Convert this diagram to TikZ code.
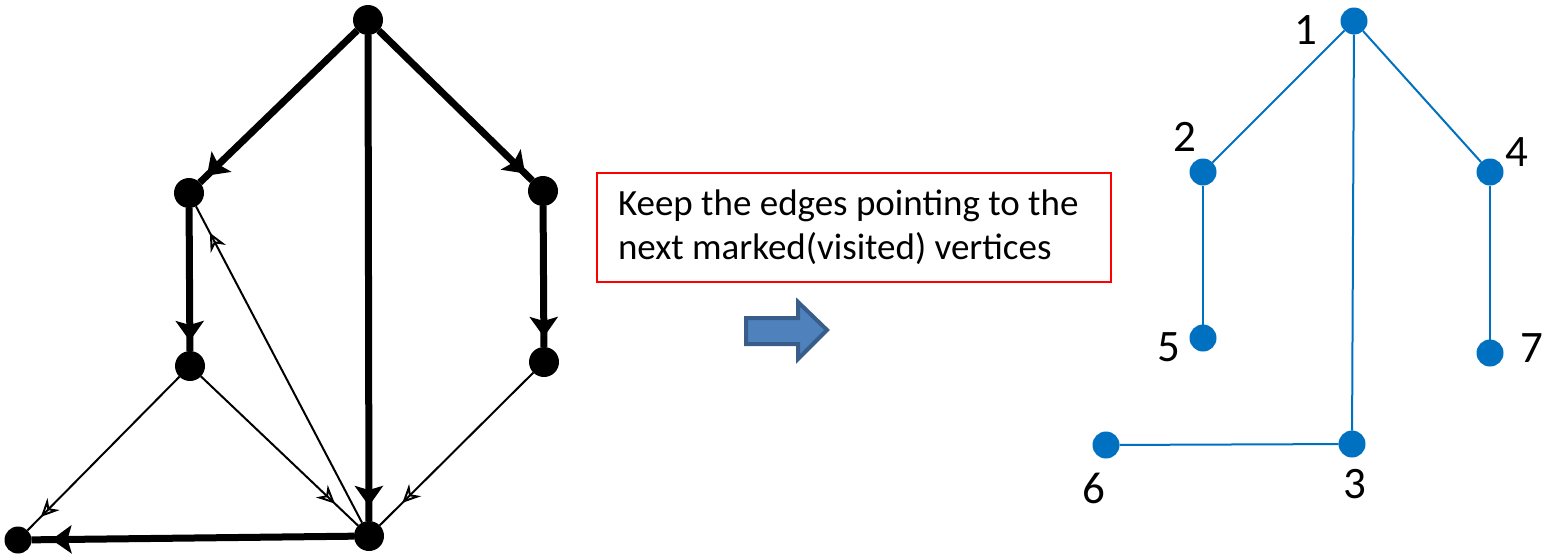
\documentclass[tikz,border=0pt]{standalone}
\usepackage{fontspec}
\setmainfont{Carlito}
\usetikzlibrary{arrows.meta, decorations.markings}

\definecolor{vtxblue}{HTML}{0070C0}
\definecolor{arrowfill}{HTML}{4F81BD}
\definecolor{arrowline}{HTML}{385D8A}

\tikzset{
  dot/.style={circle, fill=black, inner sep=0pt, outer sep=0pt, minimum size=30pt},
  vtx/.style={circle, fill=vtxblue, inner sep=0pt, outer sep=0pt, minimum size=27pt},
  num/.style={inner sep=0pt, font=\fontsize{45}{50}\selectfont},
  thickarc/.style={line width=7pt, postaction={decorate},
    decoration={markings, mark=at position #1 with {\arrow{Stealth[length=20pt,width=28pt,inset=4pt]}}}},
  thickarc/.default=-10pt,
  thinarc/.style={line width=2pt, postaction={decorate},
    decoration={markings, mark=at position #1 with {\arrow{Stealth[open,length=18pt,width=17pt,inset=6pt]}}}},
  thinarc/.default=-32pt,
  treeedge/.style={line width=2pt, draw=vtxblue},
  notebox/.style={draw=red, line width=2pt, inner sep=0pt, minimum width=514pt,
    minimum height=109pt, text width=472pt, align=flush left, font=\fontsize{37}{44}\selectfont}
}

\begin{document}
\begin{tikzpicture}[x=1pt, y=-1pt]

\useasboundingbox (0,0) rectangle (1544,555);

% Directed graph (left)
\node[dot] (t) at (368,20) {};
\node[dot] (a) at (189,193) {};
\node[dot] (b) at (543,191) {};
\node[dot] (c) at (190,366) {};
\node[dot] (d) at (544,362) {};
\node[dot, minimum size=27pt] (e) at (18,540) {};
\node[dot] (f) at (369,536) {};

% tree arcs
\draw[thickarc] (t) -- (a);
\draw[thickarc] (t) -- (b);
\draw[thickarc=-15pt] (t) -- (f);
\draw[thickarc] (a) -- (c);
\draw[thickarc] (b) -- (d);
\draw[thickarc=-20pt] (f) -- (e);

% other arcs
\draw[thinarc=-19pt] (c) -- (e);
\draw[thinarc] (c) -- (f);
\draw[thinarc] (d) -- (f);
\draw[thinarc=-30pt] (f) -- (a);

% Note
\node[notebox] (note) at (854,227.5) {Keep the edges pointing to the\\next marked(visited) vertices};

% Block arrow
\draw[line width=4pt, draw=arrowline, fill=arrowfill, line join=miter]
  (746,318) -- (798,318) -- (798,302) -- (827,330) -- (798,359) -- (798,344) -- (746,344) -- cycle;

% Spanning tree (right)
\node[vtx] (v1) at (1354,21) {};
\node[vtx] (v2) at (1203,172) {};
\node[vtx] (v4) at (1490,172) {};
\node[vtx] (v5) at (1203,338) {};
\node[vtx] (v7) at (1490,353) {};
\node[vtx] (v3) at (1352,444) {};
\node[vtx] (v6) at (1106,445) {};

\draw[treeedge] (v1) -- (v2);
\draw[treeedge] (v1) -- (v4);
\draw[treeedge] (v1) -- (v3);
\draw[treeedge] (v2) -- (v5);
\draw[treeedge] (v4) -- (v7);
\draw[treeedge] (v3) -- (v6);

\node[num] (n1) at (1306,30) {1};
\node[num] (n2) at (1185,137) {2};
\node[num] (n4) at (1517,152) {4};
\node[num] (n5) at (1169,347) {5};
\node[num] (n7) at (1532,348) {7};
\node[num] (n3) at (1355,484) {3};
\node[num] (n6) at (1094,488) {6};

\end{tikzpicture}
\end{document}
